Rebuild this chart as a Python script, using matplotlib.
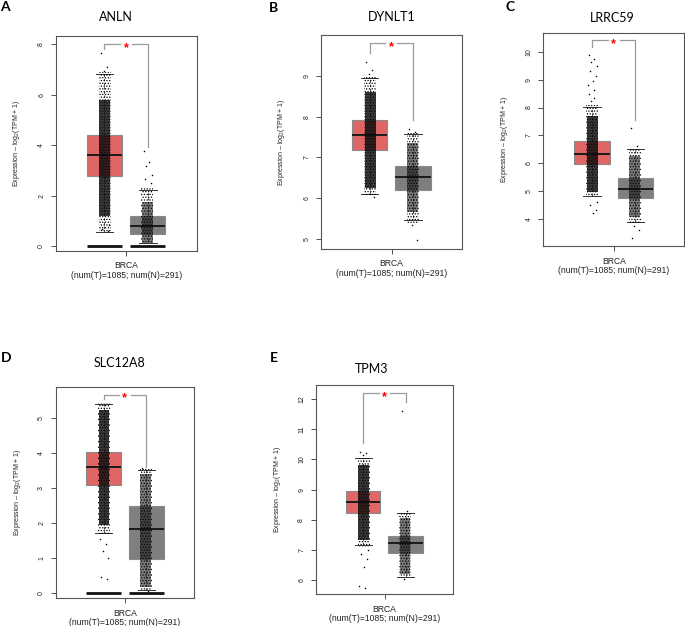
import matplotlib
matplotlib.use('Agg')
import matplotlib.pyplot as plt

# --- data ---
genes = ['ANLN', 'DYNLT1', 'LRRC59', 'SLC12A8', 'TPM3']
letters = ['A', 'B', 'C', 'D', 'E']
xlabel = 'BRCA\n(num(T)=1085; num(N)=291)'
ylabel = 'Expression – log$_2$(TPM + 1)'

# box stats: whisker low, Q1, median, Q3, whisker high
tumor_box = [
    [0.55, 2.80, 3.60, 4.42, 6.82],
    [6.10, 7.18, 7.555, 7.91, 8.94],
    [4.83, 5.97, 6.33, 6.81, 8.03],
    [1.70, 3.09, 3.60, 4.03, 5.40],
    [7.17, 8.24, 8.59, 8.95, 10.04],
]
normal_box = [
    [0.12, 0.48, 0.80, 1.20, 2.25],
    [5.46, 6.20, 6.52, 6.79, 7.57],
    [3.90, 4.76, 5.06, 5.47, 6.50],
    [0.08, 0.96, 1.84, 2.49, 3.52],
    [6.12, 6.91, 7.22, 7.46, 8.22],
]

# jittered sample clouds: lowest, dense low, dense high, highest
tumor_cloud = [
    [0.55, 1.20, 5.80, 6.90],
    [6.05, 6.25, 8.60, 9.00],
    [4.80, 4.95, 7.70, 8.10],
    [1.65, 1.95, 5.25, 5.45],
    [7.10, 7.35, 9.80, 10.05],
]
normal_cloud = [
    [0.08, 0.12, 1.75, 2.30],
    [5.40, 5.65, 7.35, 7.60],
    [3.85, 4.05, 6.25, 6.55],
    [0.05, 0.15, 3.40, 3.55],
    [6.10, 6.20, 8.05, 8.25],
]

# isolated points outside the clouds
tumor_strays = [
    [7.63, 7.10, 6.95, 0.85, 0.70, 0.62],
    [9.33, 9.15, 9.05, 6.02],
    [9.90, 9.75, 9.62, 9.50, 9.30, 9.12, 8.95, 8.80, 8.62, 8.50, 8.35, 8.22, 4.62, 4.50, 4.30, 4.20],
    [1.55, 1.40, 1.20, 1.00, 0.45, 0.40],
    [10.25, 10.20, 10.15, 7.00, 6.88, 6.70, 6.45, 5.81, 5.76],
]
normal_strays = [
    [3.78, 3.35, 3.17, 2.82, 2.65, 2.50],
    [7.69, 7.62, 5.35, 4.97],
    [7.28, 6.62, 3.75, 3.60, 3.30],
    [3.58, 0.04],
    [11.61, 8.28, 6.05],
]

# significance bracket: top, left end, right end
bracket = [
    [8.00, 7.79, 3.94],
    [9.80, 9.56, 7.91],
    [10.41, 10.17, 7.55],
    [5.68, 5.55, 3.61],
    [12.19, 10.53, 11.89],
]

yticks = [
    [0, 2, 4, 6, 8],
    [5, 6, 7, 8, 9],
    [4, 5, 6, 7, 8, 9, 10],
    [0, 1, 2, 3, 4, 5],
    [6, 7, 8, 9, 10, 11, 12],
]
zero_bars = [True, False, False, True, False]

# --- layout (pixels of a 685x626 canvas) ---
W, H = 685, 626
axes_px = [  # left, top, right, bottom
    (55.7, 36.0, 196.7, 250.7),
    (321.0, 35.0, 462.0, 248.7),
    (543.3, 32.7, 684.3, 246.0),
    (55.7, 386.7, 194.3, 598.3),
    (315.7, 385.0, 453.3, 594.0),
]
ylims = [(-0.17, 8.32), (4.76, 10.0), (3.02, 10.69), (-0.16, 5.91), (5.55, 12.46)]
title_px = [(116, 16.7), (391.7, 16.7), (612.3, 18.3), (119, 363.3), (371.7, 369.3)]
letter_px = [(5, 7), (273.3, 7.5), (509.7, 6.7), (6, 357.8), (273.7, 357.5)]

positions = [0.345, 0.653]
box_w = 0.25
jit = 0.043

red = '#E06666'
grey = '#7F7F7F'

plt.rcParams['font.family'] = ['Liberation Sans', 'DejaVu Sans']
plt.rcParams['mathtext.fontset'] = 'custom'
plt.rcParams['mathtext.rm'] = 'Liberation Sans'
plt.rcParams['hatch.linewidth'] = 0.6

fig = plt.figure(figsize=(W / 100, H / 100), dpi=100)

stray_offsets = [-0.6, 0.35, -0.15, 0.7, -0.45, 0.55, 0.05, -0.8, 0.25]


def draw_cloud(ax, x, cloud, strays, dense_alpha):
    lo, dlo, dhi, hi = cloud
    ax.fill_betweenx([lo, hi], x - jit, x + jit, facecolor='none',
                     edgecolor='black', hatch='......', linewidth=0, zorder=4)
    ax.fill_betweenx([dlo, dhi], x - jit * 0.9, x + jit * 0.9, facecolor='#0d0d0d',
                     alpha=dense_alpha, edgecolor='none', zorder=4)
    xs = [x + stray_offsets[i % len(stray_offsets)] * jit for i in range(len(strays))]
    ax.scatter(xs, strays, s=1.2, color='black', linewidths=0, zorder=5)


for i, gene in enumerate(genes):
    l, t, r, b = axes_px[i]
    ax = fig.add_axes([l / W, 1 - b / H, (r - l) / W, (b - t) / H])
    ax.set_xlim(0, 1)
    ax.set_ylim(*ylims[i])

    stats = []
    for vals in (tumor_box[i], normal_box[i]):
        stats.append(dict(whislo=vals[0], q1=vals[1], med=vals[2], q3=vals[3], whishi=vals[4]))
    bp = ax.bxp(stats, positions=positions, widths=box_w, patch_artist=True,
                showfliers=False, capwidths=box_w * 0.5,
                boxprops=dict(edgecolor='#8a8a8a', linewidth=0.8),
                medianprops=dict(color='#1a1a1a', linewidth=1.4),
                whiskerprops=dict(color='#333333', linewidth=0.6, linestyle=(0, (3, 2))),
                capprops=dict(color='#333333', linewidth=0.7))
    bp['boxes'][0].set_facecolor(red)
    bp['boxes'][1].set_facecolor(grey)

    if zero_bars[i]:
        for p in positions:
            ax.hlines(0, p - box_w / 2, p + box_w / 2, color='#111111', linewidth=2.0, zorder=3)

    draw_cloud(ax, positions[0] + 0.003, tumor_cloud[i], tumor_strays[i], 0.82)
    draw_cloud(ax, positions[1] - 0.003, normal_cloud[i], normal_strays[i], 0.55)

    # bracket with star
    top, yl, yr = bracket[i]
    gap = 0.042
    mid = (positions[0] + positions[1]) / 2
    ax.plot([positions[0], positions[0], mid - gap], [yl, top, top], color='#9a9a9a', lw=0.9, zorder=2)
    ax.plot([mid + gap, positions[1], positions[1]], [top, top, yr], color='#9a9a9a', lw=0.9, zorder=2)
    ax.annotate('*', (mid, top), xytext=(0, -4.8), textcoords='offset points',
                ha='center', va='baseline', color='red', fontsize=9, fontweight='bold')

    ax.set_xticks([0.5])
    ax.set_xticklabels([xlabel], fontsize=6.2, linespacing=1.05)
    ax.set_yticks(yticks[i])
    ax.set_yticklabels([str(v) for v in yticks[i]], fontsize=5, rotation=90, va='center')
    ax.tick_params(axis='both', length=3.6, width=0.6, color='#333333', labelcolor='#222222')
    ax.tick_params(axis='x', pad=4)
    ax.tick_params(axis='y', pad=4)
    for s in ax.spines.values():
        s.set_color('#555555')
        s.set_linewidth(0.8)

    ax.text(-0.278, 0.5, ylabel, rotation=90, ha='center', va='center',
            fontsize=5, color='#222222', transform=ax.transAxes)

    tx, ty = title_px[i]
    fig.text(tx / W, 1 - ty / H, gene, ha='center', va='center',
             fontsize=9, family=['Lato', 'DejaVu Sans'])
    lx, ly = letter_px[i]
    fig.text(lx / W, 1 - ly / H, letters[i], ha='center', va='center',
             fontsize=10, fontweight='bold', family=['Lato', 'DejaVu Sans'])

fig.savefig('out.png', dpi=100)
